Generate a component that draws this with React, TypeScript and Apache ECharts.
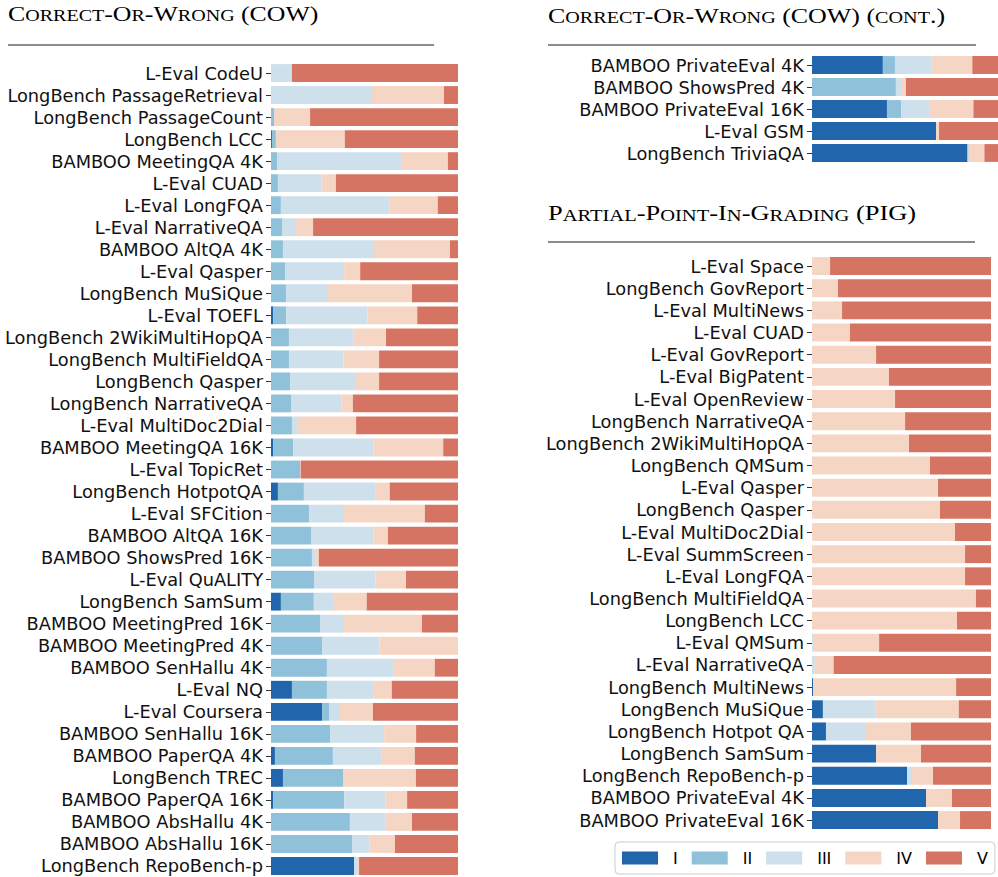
import React, { useEffect, useRef } from "react";
import * as echarts from "echarts";

const classNames = ["I", "II", "III", "IV", "V"];
const classColors = ["#2166ac", "#8fc1da", "#cde0eb", "#f5d5c3", "#d57462"];

// Panel 1: Correct-Or-Wrong (COW)
const cowLabels = [
  "L-Eval CodeU", "LongBench PassageRetrieval", "LongBench PassageCount", "LongBench LCC",
  "BAMBOO MeetingQA 4K", "L-Eval CUAD", "L-Eval LongFQA", "L-Eval NarrativeQA",
  "BAMBOO AltQA 4K", "L-Eval Qasper", "LongBench MuSiQue", "L-Eval TOEFL",
  "LongBench 2WikiMultiHopQA", "LongBench MultiFieldQA", "LongBench Qasper", "LongBench NarrativeQA",
  "L-Eval MultiDoc2Dial", "BAMBOO MeetingQA 16K", "L-Eval TopicRet", "LongBench HotpotQA",
  "L-Eval SFCition", "BAMBOO AltQA 16K", "BAMBOO ShowsPred 16K", "L-Eval QuALITY",
  "LongBench SamSum", "BAMBOO MeetingPred 16K", "BAMBOO MeetingPred 4K", "BAMBOO SenHallu 4K",
  "L-Eval NQ", "L-Eval Coursera", "BAMBOO SenHallu 16K", "BAMBOO PaperQA 4K",
  "LongBench TREC", "BAMBOO PaperQA 16K", "BAMBOO AbsHallu 4K", "BAMBOO AbsHallu 16K",
  "LongBench RepoBench-p",
];
const cowI = [0, 0, 0, 0.5, 0, 0, 0, 0, 0, 0, 0, 1.1, 0, 0, 0, 0, 0, 1.1, 0, 3.7, 0, 0, 0, 0, 5.3, 0, 0, 0, 11.2, 27.3, 0, 2.1, 6.4, 1.1, 0, 0, 44.4];
const cowII = [0, 0, 1.6, 2.1, 3.2, 3.7, 5.3, 5.9, 6.4, 7.5, 8.0, 7.0, 9.6, 9.6, 10.2, 10.7, 11.2, 10.7, 15.5, 13.9, 20.3, 21.4, 21.9, 23.0, 17.6, 26.2, 27.3, 29.9, 18.7, 3.7, 31.6, 31.0, 32.1, 38.0, 42.2, 43.3, 0];
const cowIII = [11.2, 53.5, 0, 0, 66.8, 23.2, 57.9, 7.5, 48.7, 31.6, 22.5, 43.5, 34.4, 29.1, 35.3, 26.9, 3.2, 43.0, 0, 38.1, 18.7, 33.3, 2.1, 32.8, 10.3, 12.8, 30.7, 35.8, 25.1, 5.9, 28.9, 25.8, 0, 22.1, 18.9, 9.3, 1.6];
const cowIV = [0, 39.0, 19.3, 36.9, 24.6, 7.8, 26.0, 9.1, 40.6, 8.6, 44.9, 26.6, 17.5, 19.1, 12.3, 6.2, 31.1, 37.3, 0.4, 7.8, 43.3, 7.8, 1.6, 16.4, 18.0, 41.7, 42.0, 21.9, 9.6, 17.6, 17.1, 18.0, 39.0, 11.6, 14.3, 13.7, 1.1];
const cowV = [88.8, 7.5, 79.1, 60.5, 5.4, 65.3, 10.8, 77.5, 4.3, 52.3, 24.6, 21.8, 38.5, 42.2, 42.2, 56.2, 54.5, 7.9, 84.1, 36.5, 17.7, 37.5, 74.4, 27.8, 48.8, 19.3, 0, 12.4, 35.4, 45.5, 22.4, 23.1, 22.5, 27.2, 24.6, 33.7, 52.9];

// Panel 2: COW (cont.)
const cow2Labels = ["BAMBOO PrivateEval 4K", "BAMBOO ShowsPred 4K", "BAMBOO PrivateEval 16K", "L-Eval GSM", "LongBench TriviaQA"];
const cow2I = [38.1, 0, 40.3, 66.7, 83.5];
const cow2II = [6.5, 45.1, 7.6, 0, 0.7];
const cow2III = [19.8, 3.2, 15.5, 0, 0];
const cow2IV = [21.8, 2.2, 23.4, 1.6, 8.5];
const cow2V = [13.8, 49.5, 13.2, 31.7, 7.3];

// Panel 3: Partial-Point-In-Grading (PIG)
const pigLabels = [
  "L-Eval Space", "LongBench GovReport", "L-Eval MultiNews", "L-Eval CUAD", "L-Eval GovReport",
  "L-Eval BigPatent", "L-Eval OpenReview", "LongBench NarrativeQA", "LongBench 2WikiMultiHopQA",
  "LongBench QMSum", "L-Eval Qasper", "LongBench Qasper", "L-Eval MultiDoc2Dial", "L-Eval SummScreen",
  "L-Eval LongFQA", "LongBench MultiFieldQA", "LongBench LCC", "L-Eval QMSum", "L-Eval NarrativeQA",
  "LongBench MultiNews", "LongBench MuSiQue", "LongBench Hotpot QA", "LongBench SamSum",
  "LongBench RepoBench-p", "BAMBOO PrivateEval 4K", "BAMBOO PrivateEval 16K",
];
const pigI = [0, 0, 0, 0, 0, 0, 0, 0, 0, 0, 0, 0, 0, 0, 0, 0, 0, 0, 0, 0.6, 6.1, 7.8, 35.8, 53.1, 63.7, 70.4];
const pigII = [0, 0, 0, 0, 0, 0, 0, 0, 0, 0, 0, 0, 0, 0, 0, 0, 0, 0, 0, 0, 0, 0, 0, 0, 0, 0];
const pigIII = [0, 0, 0, 0, 0, 0, 0, 0, 0, 0, 0, 0, 0, 0, 0, 0, 0, 0.6, 1.5, 0, 29.2, 21.8, 0, 2.8, 0, 0];
const pigIV = [10.1, 14.5, 16.8, 21.2, 35.8, 43.0, 46.4, 52.0, 54.2, 65.9, 70.4, 71.5, 79.9, 85.5, 85.5, 91.6, 81.0, 36.9, 10.6, 79.9, 46.7, 25.7, 25.1, 11.7, 14.5, 12.3];
const pigV = [89.9, 85.5, 83.2, 78.8, 64.2, 57.0, 53.6, 48.0, 45.8, 34.1, 29.6, 28.5, 20.1, 14.5, 14.5, 8.4, 19.0, 62.5, 87.9, 19.5, 18.0, 44.7, 39.1, 32.4, 21.8, 17.3];

const titleCOW = "Correct-Or-Wrong (COW)";
const titleCOW2 = "Correct-Or-Wrong (COW) (cont.)";
const titlePIG = "Partial-Point-In-Grading (PIG)";

function smallCaps(s: string): string {
  let out = "";
  let cur = "";
  let curType = "";
  const flush = () => {
    if (cur) out += `{${curType}|${cur}}`;
    cur = "";
  };
  for (const ch of s) {
    const isLower = ch >= "a" && ch <= "z";
    const t = isLower ? "s" : "b";
    if (t !== curType) {
      flush();
      curType = t;
    }
    cur += isLower ? ch.toUpperCase() : ch;
  }
  flush();
  return out;
}

const serif = "Liberation Serif, Times New Roman, serif";
const sans = "DejaVu Sans, sans-serif";

function titleText(x: number, y: number, s: string, sx: number) {
  return {
    type: "text",
    x,
    y,
    scaleX: sx,
    style: {
      text: smallCaps(s),
      fill: "#000",
      verticalAlign: "top",
      rich: {
        b: { fontSize: 21, fontFamily: serif, fill: "#000", verticalAlign: "bottom" },
        s: { fontSize: 16.3, fontFamily: serif, fill: "#000", verticalAlign: "bottom" },
      },
    },
  };
}

function ruleLine(x1: number, x2: number, y: number) {
  return {
    type: "line",
    shape: { x1, y1: y, x2, y2: y },
    style: { stroke: "#666", lineWidth: 1.5 },
  };
}

export default function App() {
  const ref = useRef<HTMLDivElement>(null);
  useEffect(() => {
    document.body.style.margin = "0";
    if (!ref.current) return;
    const chart = echarts.init(ref.current, undefined, { renderer: "svg" });

    const panels = [
      { labels: cowLabels, data: [cowI, cowII, cowIII, cowIV, cowV] },
      { labels: cow2Labels, data: [cow2I, cow2II, cow2III, cow2IV, cow2V] },
      { labels: pigLabels, data: [pigI, pigII, pigIII, pigIV, pigV] },
    ];
    const grids = [
      { left: 271, width: 187, top: 62, height: 37 * 22.18 },
      { left: 812, width: 186, top: 54, height: 5 * 22 },
      { left: 812, width: 179, top: 255, height: 26 * 22.16 },
    ];

    const series: any[] = [];
    panels.forEach((p, pi) => {
      p.data.forEach((vals, ci) => {
        series.push({
          type: "bar",
          name: classNames[ci],
          stack: "panel" + pi,
          xAxisIndex: pi,
          yAxisIndex: pi,
          data: vals,
          barCategoryGap: "19%",
          itemStyle: { color: classColors[ci] },
          emphasis: { disabled: true },
        });
      });
    });

    chart.setOption({
      animation: false,
      backgroundColor: "#fff",
      grid: grids.map((g) => ({ ...g, containLabel: false })),
      xAxis: grids.map((_, i) => ({
        type: "value",
        gridIndex: i,
        min: 0,
        max: 100,
        show: false,
      })),
      yAxis: panels.map((p, i) => ({
        type: "category",
        gridIndex: i,
        inverse: true,
        data: p.labels,
        axisLine: { show: false },
        axisTick: { show: true, interval: 0, alignWithLabel: true, length: 5, lineStyle: { color: "#333", width: 1 } },
        axisLabel: { interval: 0, fontFamily: sans, fontSize: 17.8, color: "#111", margin: 8 },
        splitLine: { show: false },
      })),
      legend: {
        data: classNames,
        left: 615,
        top: 842,
        orient: "horizontal",
        icon: "rect",
        itemWidth: 36,
        itemHeight: 13,
        itemGap: 14,
        padding: [8, 7, 8, 7],
        borderColor: "#ccc",
        borderWidth: 1,
        borderRadius: 4,
        backgroundColor: "#fff",
        selectedMode: false,
        textStyle: { fontFamily: sans, fontSize: 16, color: "#000", padding: [0, 0, 0, 10] },
      },
      graphic: [
        titleText(8, 3, titleCOW, 1.23),
        ruleLine(8, 434, 45),
        titleText(548, 5, titleCOW2, 1.236),
        ruleLine(548, 976, 45),
        titleText(548, 202, titlePIG, 1.26),
        ruleLine(548, 975, 242),
      ],
      series,
    });
    return () => chart.dispose();
  }, []);
  return <div ref={ref} style={{ width: 998, height: 877 }} />;
}
